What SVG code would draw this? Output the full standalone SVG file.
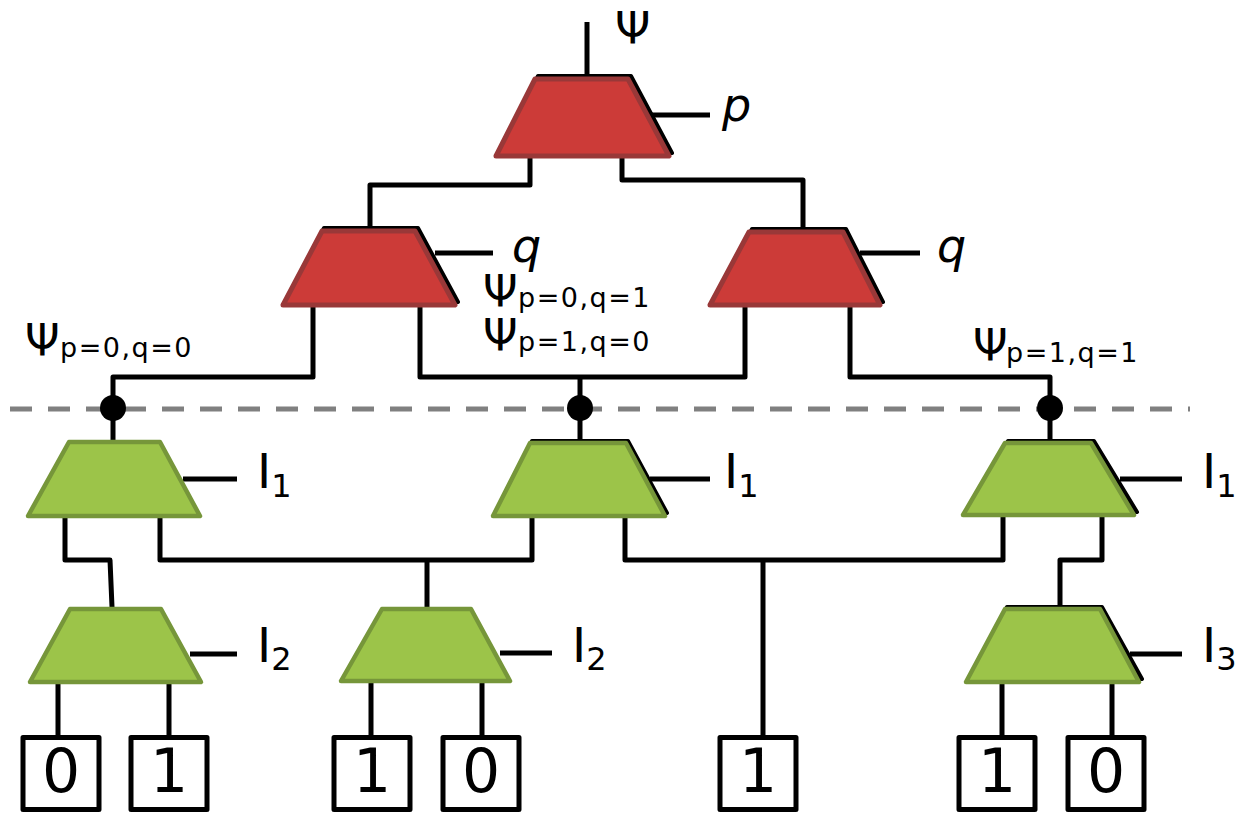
<svg xmlns="http://www.w3.org/2000/svg" width="1235" height="813" viewBox="0 0 1235 813">
<style>
.w{fill:none;stroke:#000;stroke-width:5;stroke-linejoin:round;stroke-linecap:butt}
.red{fill:#cc3b38;stroke:#993838;stroke-width:5;stroke-linejoin:round}
.grn{fill:#9cc449;stroke:#76963a;stroke-width:4.5;stroke-linejoin:round}
.sh{fill:#000;stroke:#000;stroke-width:4;stroke-linejoin:round}
.box{fill:#fff;stroke:#000;stroke-width:5;stroke-linejoin:round}
.t{font-family:"DejaVu Sans",sans-serif;fill:#000}
.sub{font-size:27px;letter-spacing:1.5px}
.it{font-family:"DejaVu Sans",sans-serif;font-style:italic;fill:#000}
.d{font-family:"DejaVu Sans",sans-serif;font-size:60px;text-anchor:middle;fill:#000}
.dot{fill:#000}
</style>

<line x1="10" y1="409" x2="1190" y2="409" stroke="#808080" stroke-width="5" stroke-dasharray="22 16"/>

<g id="connectors">
<path class="w" d="M587,22 V77"/>
<path class="w" d="M652,115 H710"/>
<path class="w" d="M530,158 V185 H370 V229"/>
<path class="w" d="M622,158 V180 H803 V229"/>
<path class="w" d="M435,253 H493"/>
<path class="w" d="M860,253 H920"/>
<path class="w" d="M313,307 V377 H113 V440"/>
<path class="w" d="M420,307 V377 H745 V307"/>
<path class="w" d="M580,377 V441"/>
<path class="w" d="M850,307 V377 H1050 V441"/>
<path class="w" d="M183,479 H237"/>
<path class="w" d="M650,479 H710"/>
<path class="w" d="M1120,479 H1182"/>
<path class="w" d="M65,518 V560 H110 L112,607"/>
<path class="w" d="M160,518 V560 H532 V518"/>
<path class="w" d="M427,560 V607"/>
<path class="w" d="M625,518 V560 H1003 V517"/>
<path class="w" d="M763,560 V737"/>
<path class="w" d="M1102,517 V560 H1060 V607"/>
<path class="w" d="M190,654 H237"/>
<path class="w" d="M500,653 H552"/>
<path class="w" d="M1130,654 H1182"/>
<path class="w" d="M58,684 V737 M169,684 V737"/>
<path class="w" d="M371,683 V737 M482,683 V737"/>
<path class="w" d="M1002,684 V737 M1112,684 V737"/>
<circle class="dot" cx="113" cy="408" r="13"/>
<circle class="dot" cx="580" cy="408" r="13"/>
<circle class="dot" cx="1050" cy="408" r="13"/>
</g>

<g id="mux-p">
<path class="sh" d="M538,76 L631,76 L672,153 L499,153 Z"/>
<path class="red" d="M535,79 L628,79 L669,156 L496,156 Z"/>
</g>
<g id="mux-q-left">
<path class="sh" d="M324,228 L418,228 L458,302 L286,302 Z"/>
<path class="red" d="M322,231 L415,231 L455,305 L283,305 Z"/>
</g>
<g id="mux-q-right">
<path class="sh" d="M752,229 L846,229 L883,302 L713,302 Z"/>
<path class="red" d="M749,232 L843,232 L880,305 L710,305 Z"/>
</g>

<g id="mux-l1-left">
<path class="grn" d="M69,442 L160,442 L200,516 L28,516 Z"/>
</g>
<g id="mux-l1-mid">
<path class="sh" d="M532,441 L628,441 L667,513 L495,513 Z"/>
<path class="grn" d="M530,443 L626,443 L665,516 L493,516 Z"/>
</g>
<g id="mux-l1-right">
<path class="sh" d="M1008,441 L1094,441 L1137,512 L966,512 Z"/>
<path class="grn" d="M1005,443 L1091,443 L1134,515 L963,515 Z"/>
</g>
<g id="mux-l2-left">
<path class="grn" d="M70,609 L161,609 L201,682 L30,682 Z"/>
</g>
<g id="mux-l2-mid">
<path class="grn" d="M382,609 L471,609 L510,681 L341,681 Z"/>
</g>
<g id="mux-l3-right">
<path class="sh" d="M1007,607 L1102,607 L1142,679 L969,679 Z"/>
<path class="grn" d="M1005,609 L1100,609 L1139,682 L966,682 Z"/>
</g>

<g id="leaf1"><rect class="box" x="23" y="737.5" width="76" height="72"/><text class="d" x="61" y="792">0</text></g>
<g id="leaf2"><rect class="box" x="131" y="737.5" width="76" height="72"/><text class="d" x="169" y="792">1</text></g>
<g id="leaf3"><rect class="box" x="334" y="737.5" width="76" height="72"/><text class="d" x="372" y="792">1</text></g>
<g id="leaf4"><rect class="box" x="443" y="737.5" width="76" height="72"/><text class="d" x="481" y="792">0</text></g>
<g id="leaf5"><rect class="box" x="720" y="737.5" width="76" height="72"/><text class="d" x="758" y="792">1</text></g>
<g id="leaf6"><rect class="box" x="959" y="737.5" width="76" height="72"/><text class="d" x="997" y="792">1</text></g>
<g id="leaf7"><rect class="box" x="1068" y="737.5" width="76" height="72"/><text class="d" x="1106" y="792">0</text></g>

<g id="labels">
<text class="t" x="615" y="44" font-size="45">Ψ</text>
<text class="it" x="722" y="121" font-size="46">p</text>
<text class="it" x="512" y="262" font-size="46">q</text>
<text class="it" x="937" y="262" font-size="46">q</text>
<text class="t" x="25" y="356" font-size="44">Ψ<tspan class="sub" x="60" y="357">p=0,q=0</tspan></text>
<text class="t" x="483" y="307" font-size="44">Ψ<tspan class="sub" x="518" y="307">p=0,q=1</tspan></text>
<text class="t" x="483" y="351" font-size="44">Ψ<tspan class="sub" x="518" y="351">p=1,q=0</tspan></text>
<text class="t" x="973" y="361" font-size="44">Ψ<tspan class="sub" x="1006" y="362">p=1,q=1</tspan></text>
<text class="t" x="257" y="488" font-size="48">I<tspan font-size="32" y="497">1</tspan></text>
<text class="t" x="724" y="488" font-size="48">I<tspan font-size="32" y="497">1</tspan></text>
<text class="t" x="1202" y="488" font-size="48">I<tspan font-size="32" y="497">1</tspan></text>
<text class="t" x="257" y="662" font-size="48">I<tspan font-size="32" y="670">2</tspan></text>
<text class="t" x="572" y="662" font-size="48">I<tspan font-size="32" y="670">2</tspan></text>
<text class="t" x="1202" y="662" font-size="48">I<tspan font-size="32" y="670">3</tspan></text>
</g>
</svg>
